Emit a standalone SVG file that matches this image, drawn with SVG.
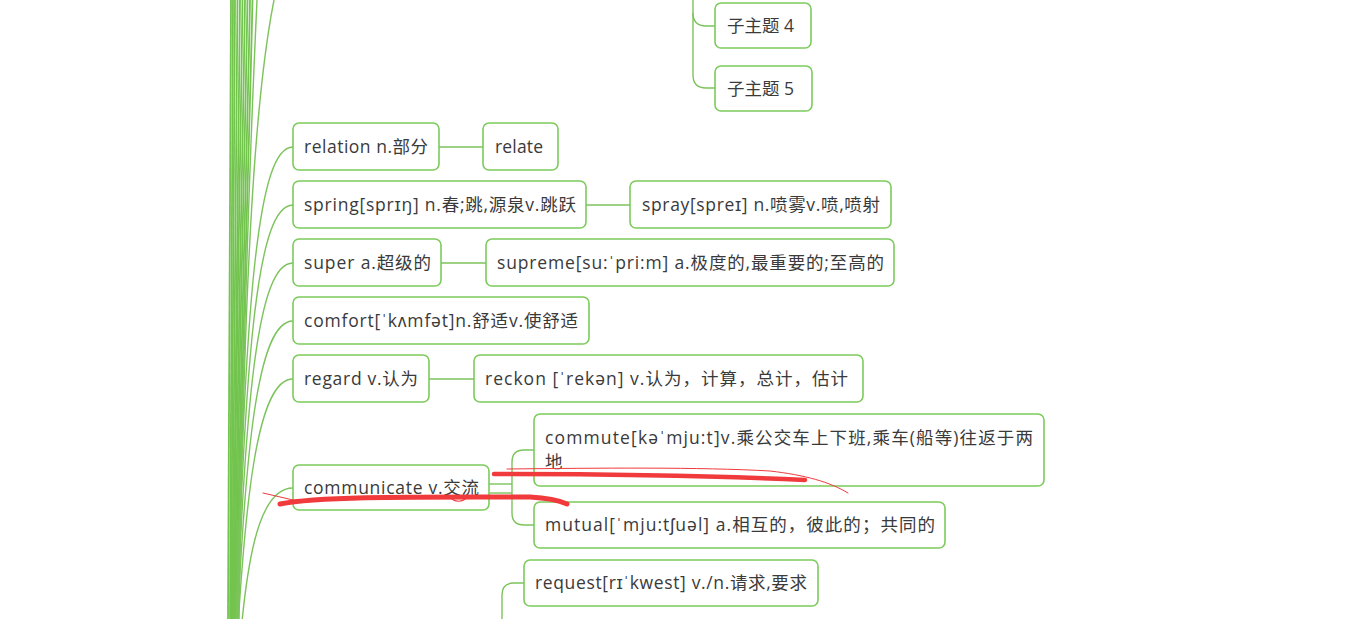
<svg xmlns="http://www.w3.org/2000/svg" width="1366" height="619" viewBox="0 0 1366 619">
<style>
.box{fill:#fff;stroke:#7ccb5c;stroke-width:1.6}
.t{font-family:"Open Sans","Noto Sans CJK SC",sans-serif;font-size:17.5px;fill:#3a3a3a}
.c{fill:none;stroke:#7cc35c;stroke-width:1.4}
.b{fill:none;stroke:#72c44e;stroke-width:1.8}
.red{fill:none;stroke:#f03a3c;stroke-linecap:round}
</style>
<rect width="1366" height="619" fill="#fff"/>
<g id="connectors">
  <g id="bundle">
    <path class="b" d="M231,0 C231,200 229,400 228,619"/>
    <path class="b" d="M233,0 C233,200 231,400 230,619"/>
    <path class="b" d="M235,0 C234,200 232,400 231,619"/>
    <path class="b" d="M237.5,0 C236,200 233,400 232,619"/>
    <path class="b" d="M240,0 C238,200 234,400 233,619"/>
    <path class="b" d="M242.5,0 C240,200 235,400 234,619"/>
    <path class="b" d="M245,0 C242,200 236.5,400 235,619"/>
    <path class="b" d="M247.5,0 C244,200 237.5,400 236,619"/>
    <path class="b" d="M250,0 C246,200 239,400 237,619"/>
    <path class="b" d="M252.5,0 C248,200 240,400 238,619"/>
    <path class="c" d="M257,0 C250,150 243,350 238,619"/>
    <path class="c" d="M274,0 C256,90 244,260 239,619"/>
  </g>
  <path class="c" d="M293,147 C258,147 244,290 234,700"/>
  <path class="c" d="M293,205 C258,205 244,340 234,700"/>
  <path class="c" d="M293,263 C258,263 244,390 234,700"/>
  <path class="c" d="M293,321 C258,321 244,440 234,700"/>
  <path class="c" d="M293,379 C258,379 244,490 234,700"/>
  <path class="c" d="M293,488 C258,488 244,560 236,700"/>
  <path class="c" d="M693,0 L693,75 Q693,88 706,88 L715,88"/>
  <path class="c" d="M693,13 Q693,26 706,26 L715,26"/>
  <path class="c" d="M439,147 L483,147"/>
  <path class="c" d="M586,205 L630,205"/>
  <path class="c" d="M441,263 L486,263"/>
  <path class="c" d="M429,379 L474,379"/>
  <path class="c" d="M489,484 L512,484"/>
  <path class="c" d="M489,493 L512,493"/>
  <path class="c" d="M534,450 L524,450 Q512,450 512,462 L512,513 Q512,525 524,525 L534,525"/>
  <path class="c" d="M502,619 L502,595 Q502,583 514,583 L524,583"/>
</g>
<g id="n-sub4"><rect class="box" x="715" y="3" width="96" height="45" rx="6"/><text class="t" x="727" y="32">子主题 4</text></g>
<g id="n-sub5"><rect class="box" x="715" y="66" width="97" height="45" rx="6"/><text class="t" x="727" y="95">子主题 5</text></g>
<g id="n-relation"><rect class="box" x="293" y="123" width="146" height="47" rx="6"/><text class="t" x="304" y="153" textLength="124">relation n.部分</text></g>
<g id="n-relate"><rect class="box" x="483" y="123" width="75" height="47" rx="6"/><text class="t" x="495" y="153" textLength="48">relate</text></g>
<g id="n-spring"><rect class="box" x="293" y="181" width="293" height="47" rx="6"/><text class="t" x="304" y="211" textLength="272">spring[sprɪŋ] n.春;跳,源泉v.跳跃</text></g>
<g id="n-spray"><rect class="box" x="630" y="181" width="261" height="47" rx="6"/><text class="t" x="642" y="211" textLength="238">spray[spreɪ] n.喷雾v.喷,喷射</text></g>
<g id="n-super"><rect class="box" x="293" y="239" width="148" height="47" rx="6"/><text class="t" x="304" y="269" textLength="127">super a.超级的</text></g>
<g id="n-supreme"><rect class="box" x="486" y="239" width="408" height="47" rx="6"/><text class="t" x="497" y="269" textLength="387">supreme[su:ˈpri:m] a.极度的,最重要的;至高的</text></g>
<g id="n-comfort"><rect class="box" x="293" y="297" width="296" height="47" rx="6"/><text class="t" x="304" y="327" textLength="274">comfort[ˈkʌmfət]n.舒适v.使舒适</text></g>
<g id="n-regard"><rect class="box" x="293" y="355" width="136" height="47" rx="6"/><text class="t" x="304" y="385" textLength="114">regard v.认为</text></g>
<g id="n-reckon"><rect class="box" x="474" y="355" width="389" height="47" rx="6"/><text class="t" x="485" y="385" textLength="363">reckon [ˈrekən] v.认为，计算，总计，估计</text></g>
<g id="n-communicate"><rect class="box" x="293" y="465" width="196" height="45" rx="6"/><text class="t" x="304" y="494" textLength="175">communicate v.交流</text></g>
<g id="n-commute"><rect class="box" x="534" y="414" width="510" height="72" rx="6"/><text class="t" x="545" y="444" textLength="488">commute[kəˈmju:t]v.乘公交车上下班,乘车(船等)往返于两</text><text class="t" x="545" y="468">地</text></g>
<g id="n-mutual"><rect class="box" x="534" y="502" width="411" height="46" rx="6"/><text class="t" x="545" y="531" textLength="390">mutual[ˈmju:tʃuəl] a.相互的，彼此的；共同的</text></g>
<g id="n-request"><rect class="box" x="524" y="560" width="294" height="46" rx="6"/><text class="t" x="535" y="589" textLength="272">request[rɪˈkwest] v./n.请求,要求</text></g>
<g id="annotations">
  <path class="red" stroke-width="5" d="M280,504 C320,496 420,497 530,497 C548,498 558,500 567,504"/>
  <path class="red" stroke-width="1.2" d="M452,499 C455,502 462,502 465,499"/>
  <path class="red" stroke-width="1" d="M263,493 L293,500"/>
  <path class="red" stroke-width="4.5" d="M494,474 C600,474 720,476 805,480"/>
  <path class="red" stroke-width="1" d="M507,469 C600,468 700,467 770,471 C805,475 830,482 848,493"/>
</g>
</svg>
